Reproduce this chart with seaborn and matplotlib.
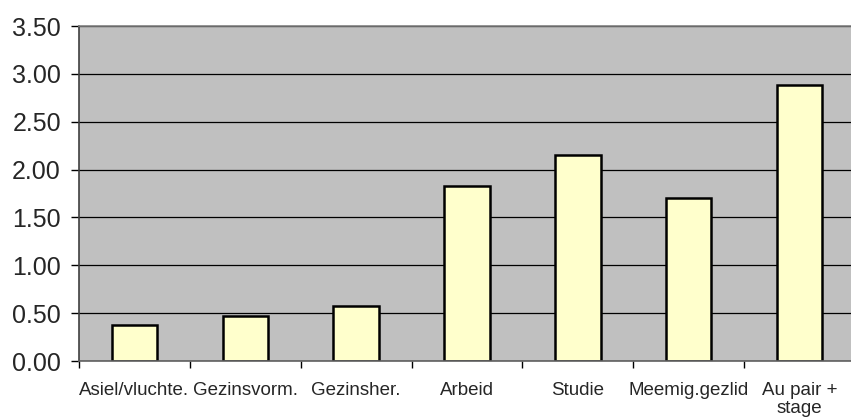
import matplotlib
matplotlib.use('Agg')
import matplotlib.pyplot as plt
import seaborn as sns
import pandas as pd
import numpy as np

# data
categories = ['Asiel/vluchte.', 'Gezinsvorm.', 'Gezinsher.', 'Arbeid',
              'Studie', 'Meemig.gezlid', 'Au pair +\nstage']
values = [0.38, 0.47, 0.57, 1.83, 2.15, 1.70, 2.88]
y_ticks = [0.0, 0.5, 1.0, 1.5, 2.0, 2.5, 3.0, 3.5]

sns.set_style('white')
plt.rcParams['font.family'] = ['Liberation Sans', 'DejaVu Sans']

df = pd.DataFrame({'cat': categories, 'val': values})

fig = plt.figure(figsize=(8.51, 4.19), dpi=100)
ax = fig.add_axes([79 / 851, 58 / 419, 776 / 851, 335 / 419])
ax.set_facecolor('#C0C0C0')

sns.barplot(data=df, x='cat', y='val', ax=ax, color='#FFFFCC',
            edgecolor='black', linewidth=1.8, width=0.41, saturation=1)

ax.set_ylim(0, 3.5)
ax.set_xlim(-0.5, len(categories) - 0.5)
ax.set_yticks(y_ticks)
ax.set_yticklabels([f'{v:.2f}' for v in y_ticks], fontsize=18)
ax.yaxis.grid(True, color='black', linewidth=0.9)
ax.set_axisbelow(True)

# category ticks between bars
ax.set_xticks(np.arange(-0.5, len(categories)), minor=True)
ax.tick_params(axis='x', which='major', length=0, pad=15, labelsize=13.5)
ax.tick_params(axis='x', which='minor', length=5, width=1, color='black',
               direction='out', bottom=True)
ax.tick_params(axis='y', length=6, width=1, color='black', direction='out',
               left=True, pad=7)
for lbl in ax.get_xticklabels():
    lbl.set_linespacing(1.1)

ax.set_xlabel('')
ax.set_ylabel('')

for side in ['top', 'right']:
    ax.spines[side].set_color('#808080')
    ax.spines[side].set_linewidth(1.2)
ax.spines['left'].set_color('#404040')
ax.spines['left'].set_linewidth(1.2)
ax.spines['bottom'].set_color('#606060')
ax.spines['bottom'].set_linewidth(1.2)

fig.savefig('out.png', dpi=100)
